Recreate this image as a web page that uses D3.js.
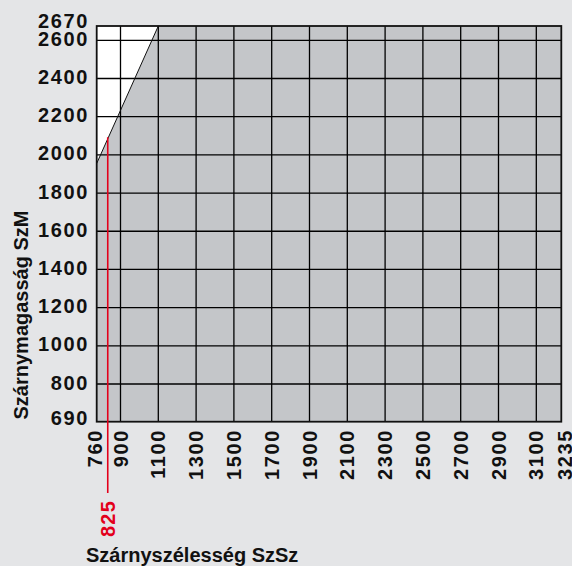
<!DOCTYPE html>
<html>
<head>
<meta charset="utf-8">
<script src="https://cdn.jsdelivr.net/npm/d3@7"></script>
<style>
  html, body { margin: 0; padding: 0; background: #e4e5e7; }
  svg { display: block; }
  text { font-family: "Liberation Sans", Arial, sans-serif; font-weight: bold; fill: #111; }
</style>
</head>
<body>
<div id="chart"></div>
<script>
// tick values as printed on the axes
const widthTicks = [760, 900, 1100, 1300, 1500, 1700, 1900, 2100, 2300, 2500, 2700, 2900, 3100, 3235];
const heightTicks = [690, 800, 1000, 1200, 1400, 1600, 1800, 2000, 2200, 2400, 2600, 2670];
// lower edge of the white (not allowed) corner
const limitWidth = [760, 1100];
const limitHeight = [1955, 2670];
// example width marked in red
const markWidth = 825;
const markLabel = "825";
const xTitle = "Szárnyszélesség SzSz";
const yTitle = "Szárnymagasság SzM";

const W = 572, H = 566;
const svg = d3.select("#chart").append("svg").attr("width", W).attr("height", H);
svg.append("rect").attr("width", W).attr("height", H).attr("fill", "#e4e5e7");

// the printed chart is not fully linear at both ends, so piecewise scales
const x = d3.scaleLinear().domain([760, 900, 3100, 3235]).range([96.7, 120.5, 536.3, 561.3]);
const y = d3.scaleLinear().domain([690, 800, 2600, 2670]).range([421.7, 384, 40.3, 26]);

const x0 = widthTicks[0], x1 = widthTicks[widthTicks.length - 1];
const y0 = heightTicks[0], y1 = heightTicks[heightTicks.length - 1];

const plot = svg.append("g");

// white background of the plot
plot.append("rect")
  .attr("x", x(x0)).attr("y", y(y1))
  .attr("width", x(x1) - x(x0)).attr("height", y(y0) - y(y1))
  .attr("fill", "#fff");

// allowed region (grey)
const area = [[x0, y0], [limitWidth[0], limitHeight[0]], [limitWidth[1], limitHeight[1]], [x1, y1], [x1, y0]];
plot.append("path")
  .attr("d", d3.line().x(d => x(d[0])).y(d => y(d[1]))(area) + "Z")
  .attr("fill", "#c4c6c9");

// grid
plot.selectAll(".vgrid").data(widthTicks.slice(1, -1)).join("line")
  .attr("x1", d => x(d)).attr("x2", d => x(d))
  .attr("y1", y(y0)).attr("y2", y(y1))
  .attr("stroke", "#000").attr("stroke-width", 1.3);
plot.selectAll(".hgrid").data(heightTicks.slice(1, -1)).join("line")
  .attr("x1", x(x0)).attr("x2", x(x1))
  .attr("y1", d => y(d)).attr("y2", d => y(d))
  .attr("stroke", "#000").attr("stroke-width", 1.3);

// limit line
plot.append("line")
  .attr("x1", x(limitWidth[0])).attr("y1", y(limitHeight[0]))
  .attr("x2", x(limitWidth[1])).attr("y2", y(limitHeight[1]))
  .attr("stroke", "#111").attr("stroke-width", 1);

// frame
plot.append("rect")
  .attr("x", x(x0)).attr("y", y(y1))
  .attr("width", x(x1) - x(x0)).attr("height", y(y0) - y(y1))
  .attr("fill", "none").attr("stroke", "#111").attr("stroke-width", 1.8);

// red marker at 825
const limitAt = d3.scaleLinear().domain(limitWidth).range(limitHeight);
svg.append("line")
  .attr("x1", x(markWidth)).attr("x2", x(markWidth))
  .attr("y1", y(limitAt(markWidth))).attr("y2", 493)
  .attr("stroke", "#e3001b").attr("stroke-width", 1.6);
svg.append("text")
  .attr("transform", `translate(${x(markWidth)},500) rotate(-90)`)
  .attr("text-anchor", "end").attr("dy", "0.35em")
  .style("font-size", "20px").style("letter-spacing", "1.2px")
  .style("fill", "#e3001b")
  .text(markLabel);

// y tick labels
svg.selectAll(".ylab").data(heightTicks).join("text")
  .attr("x", 89)
  .attr("y", d => y(d) + (d === y1 ? 2.3 : d === y0 ? 3.5 : 5.5))
  .attr("text-anchor", "end")
  .style("font-size", "20px").style("letter-spacing", "1.6px")
  .text(d => d);

// x tick labels
svg.selectAll(".xlab").data(widthTicks).join("text")
  .attr("transform", d => `translate(${x(d) + (d === x0 ? -1.5 : d === x1 ? 3.5 : 0)},429) rotate(-90)`)
  .attr("text-anchor", "end").attr("dy", "0.35em")
  .style("font-size", "20px").style("letter-spacing", "1.6px")
  .text(d => d);

// axis titles
svg.append("text")
  .attr("x", 86).attr("y", 562)
  .style("font-size", "20px")
  .text(xTitle);
svg.append("text")
  .attr("transform", "translate(21,315) rotate(-90)")
  .attr("text-anchor", "middle").attr("dy", "0.35em")
  .style("font-size", "20px")
  .text(yTitle);
</script>
</body>
</html>
